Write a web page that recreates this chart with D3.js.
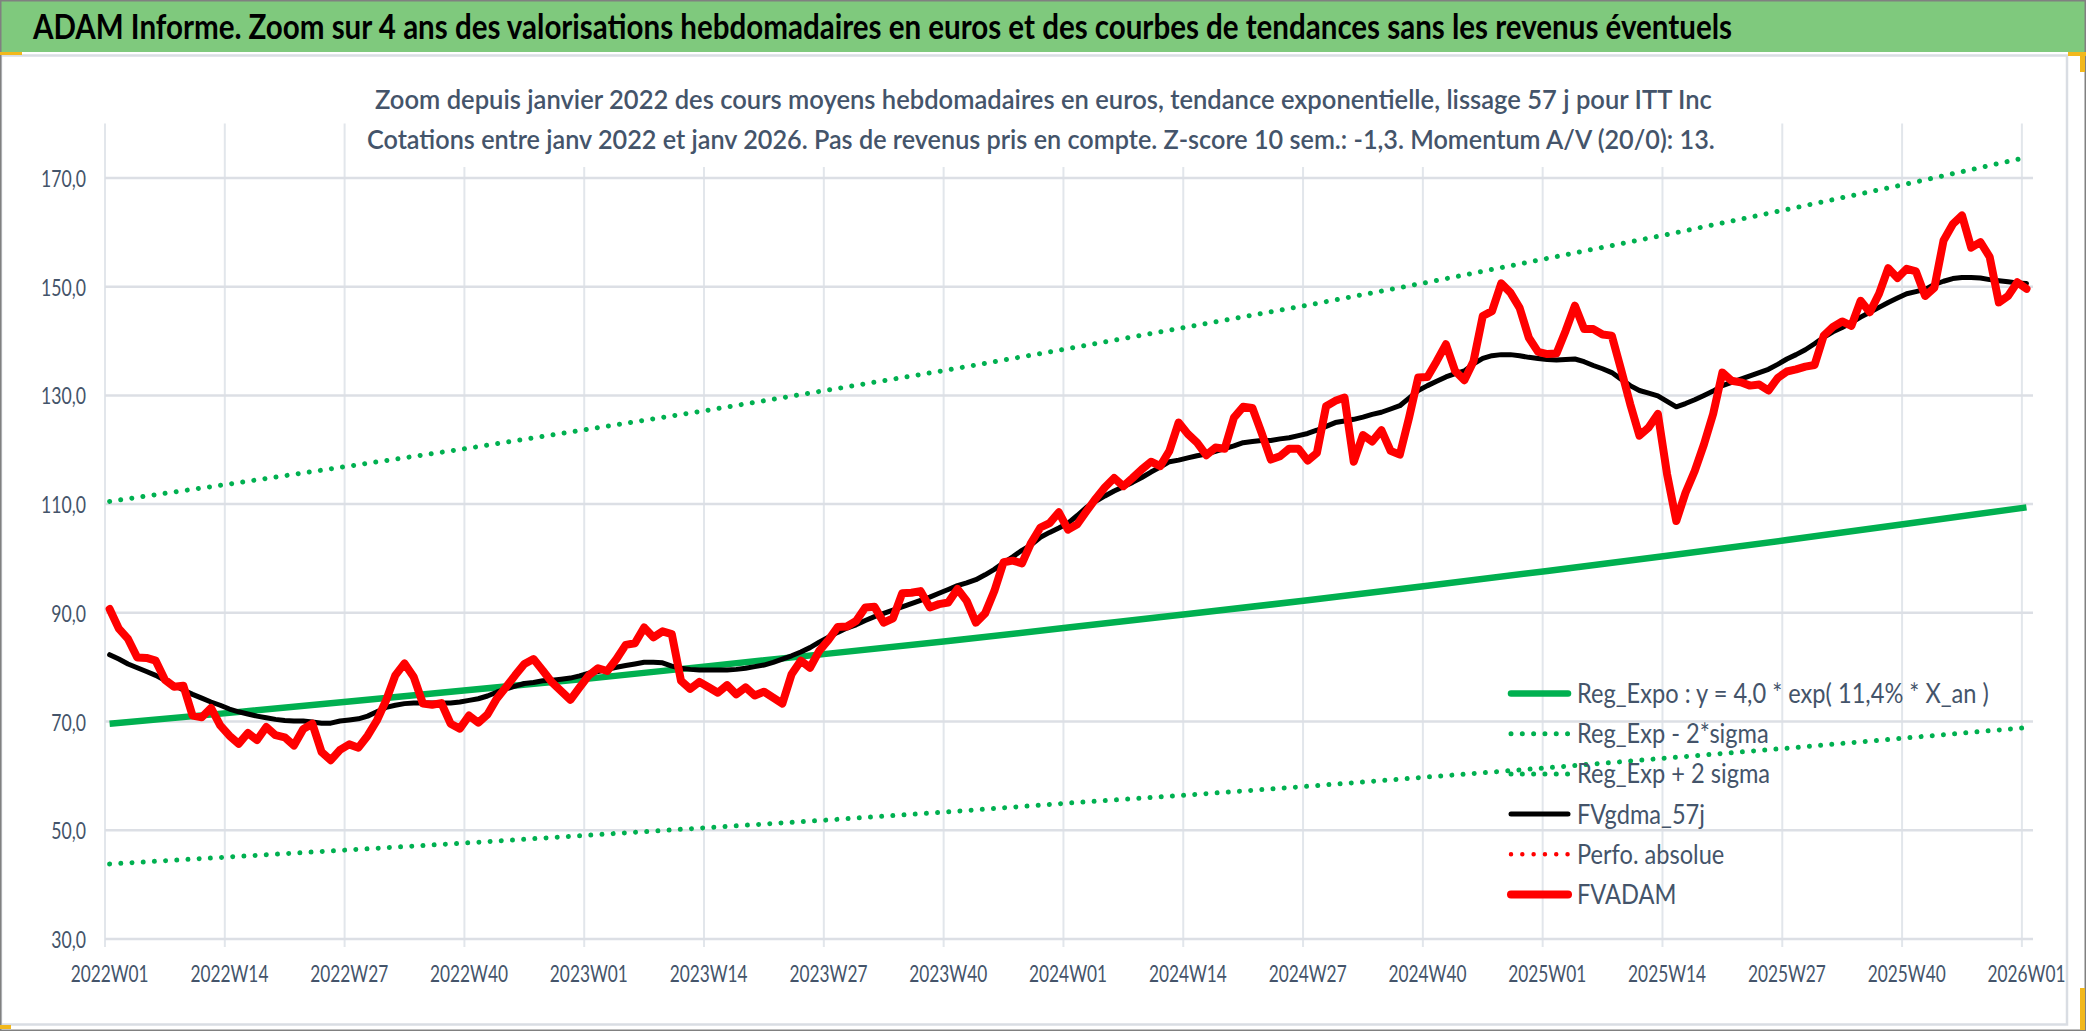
<!DOCTYPE html>
<html>
<head>
<meta charset="utf-8">
<script src="https://cdn.jsdelivr.net/npm/d3@7"></script>
<style>
  html, body { margin: 0; padding: 0; background: #ffffff; }
  svg { display: block; }
</style>
</head>
<body>
<svg id="chart" width="2086" height="1031"></svg>
<script>
// ---------------- DATA ----------------
const headerTitle = "ADAM Informe. Zoom sur 4 ans des valorisations hebdomadaires en euros et des courbes de tendances sans les revenus éventuels";
const subTitle1 = "Zoom depuis janvier 2022 des cours moyens hebdomadaires en euros, tendance exponentielle, lissage 57 j pour ITT Inc";
const subTitle2 = "Cotations entre janv 2022 et janv 2026. Pas de revenus pris en compte. Z-score 10 sem.: -1,3. Momentum A/V (20/0): 13.";

// weekly categories 2022W01 ... 2026W01
const years = [2022, 2023, 2024, 2025];
const weeksPerYear = 52;
const categories = [];
years.forEach(y => { for (let w = 1; w <= weeksPerYear; w++) categories.push(y + "W" + String(w).padStart(2, "0")); });
categories.push("2026W01");

const tickLabels = ["2022W01","2022W14","2022W27","2022W40","2023W01","2023W14","2023W27","2023W40",
                    "2024W01","2024W14","2024W27","2024W40","2025W01","2025W14","2025W27","2025W40","2026W01"];
const yTicks = [30, 50, 70, 90, 110, 130, 150, 170];

// FVADAM (weekly average price, euros)
const fvadam = [
 90.7,87.1,85.2,81.8,81.7,81.2,77.7,76.4,76.6,71.1,70.8,72.5,69.3,67.4,65.9,67.9,66.6,69.0,67.5,67.1,
 65.6,68.6,69.6,64.4,62.9,64.8,65.8,65.2,67.4,70.2,73.9,78.5,80.7,78.2,73.3,73.1,73.4,69.6,68.7,71.1,
 69.8,71.3,74.2,76.3,78.5,80.6,81.5,79.4,77.2,75.6,74.0,76.3,78.5,79.8,79.3,81.5,84.1,84.4,87.3,85.5,
 86.6,86.1,77.5,76.0,77.3,76.3,75.3,76.7,75.0,76.3,74.8,75.5,74.4,73.3,78.7,81.2,79.9,83.0,85.0,87.4,
 87.5,88.5,91.0,91.1,88.2,89.0,93.6,93.7,94.0,91.0,91.6,91.9,94.4,92.2,88.2,89.9,94.0,99.3,99.6,99.1,
 102.9,105.7,106.5,108.5,105.3,106.3,108.7,111.0,113.1,114.8,113.3,114.8,116.4,117.8,117.0,119.8,125.0,122.9,121.3,119.0,
 120.4,120.2,125.9,127.9,127.7,123.1,118.2,118.8,120.2,120.2,118.0,119.4,128.0,129.0,129.6,117.8,122.7,121.5,123.6,119.8,
 119.1,125.9,133.3,133.4,136.3,139.4,134.5,132.8,136.3,144.6,145.5,150.6,148.9,146.1,140.6,138.0,137.6,137.7,141.9,146.5,
 142.2,142.2,141.2,141.0,134.8,128.4,122.6,124.1,126.6,115.5,106.9,112.1,116.1,121.0,126.6,134.2,132.7,132.4,131.8,132.0,
 130.9,133.2,134.4,134.8,135.3,135.6,141.0,142.6,143.6,142.8,147.4,145.3,148.7,153.4,151.6,153.3,152.8,148.3,149.8,158.5,
 161.5,163.1,157.2,158.2,155.5,147.1,148.3,150.8,149.6
];

// FVgdma_57j (smoothed)
const fvgdma = [
 82.3,81.5,80.6,79.9,79.2,78.5,77.6,76.7,75.8,75.0,74.3,73.6,73.0,72.3,71.8,71.4,71.0,70.7,70.4,70.2,
 70.1,70.1,69.9,69.7,69.7,70.1,70.3,70.5,71.0,71.8,72.6,73.0,73.3,73.4,73.4,73.4,73.4,73.4,73.6,73.9,
 74.2,74.7,75.4,76.0,76.5,77.0,77.2,77.5,77.6,77.8,78.0,78.4,78.9,79.2,79.6,80.0,80.3,80.6,80.9,80.9,
 80.8,80.2,79.8,79.6,79.5,79.5,79.5,79.5,79.6,79.8,80.1,80.4,80.9,81.5,82.1,82.8,83.6,84.6,85.5,86.4,
 87.2,87.8,88.6,89.3,89.9,90.5,91.1,91.7,92.3,92.9,93.6,94.3,95.0,95.5,96.1,97.0,98.0,99.2,100.3,101.5,
 102.5,103.9,104.8,105.6,106.5,107.9,109.4,110.5,111.5,112.4,113.2,114.0,114.9,115.9,116.8,117.8,118.1,118.5,118.9,119.2,
 119.7,120.2,120.7,121.3,121.5,121.7,121.7,122.0,122.2,122.6,123.0,123.6,124.3,125.0,125.3,125.6,126.0,126.5,126.9,127.5,
 128.1,129.5,130.9,131.8,132.6,133.4,134.0,134.5,135.8,136.8,137.3,137.5,137.5,137.3,137.0,136.8,136.6,136.5,136.6,136.7,
 136.2,135.5,134.9,134.2,133.0,131.8,130.9,130.4,129.9,128.9,127.9,128.5,129.2,130.0,130.8,131.8,132.4,133.0,133.6,134.2,
 134.8,135.7,136.7,137.5,138.4,139.5,140.7,141.7,142.5,143.4,144.4,145.3,146.2,147.1,147.9,148.7,149.1,149.5,150.4,151.0,
 151.5,151.7,151.7,151.6,151.3,151.1,150.9,150.7,150.6
];

// Trend curves read at each labelled week (tickLabels)
const regExpo  = [69.6,71.6,73.7,75.8,77.9,80.2,82.5,84.8,87.3,89.8,92.3,95.0,97.7,100.5,103.4,106.4,109.4];
const regMinus = [43.8,45.1,46.4,47.7,49.1,50.5,51.9,53.4,55.0,56.5,58.1,59.8,61.5,63.3,65.1,67.0,68.9];
const regPlus  = [110.5,113.7,117.0,120.3,123.8,127.3,131.0,134.7,138.6,142.6,146.6,150.8,155.2,159.6,164.2,168.9,173.8];

const legendItems = [
  { name: "Reg_Expo : y = 4,0 * exp( 11,4% *  X_an )", color: "#00b050", kind: "solid",  w: 6.5 },
  { name: "Reg_Exp - 2*sigma",  color: "#00b050", kind: "dot", w: 5 },
  { name: "Reg_Exp + 2 sigma",  color: "#00b050", kind: "dot", w: 5 },
  { name: "FVgdma_57j",         color: "#000000", kind: "solid", w: 5 },
  { name: "Perfo. absolue",     color: "#ff0000", kind: "dot", w: 4.5 },
  { name: "FVADAM",             color: "#ff0000", kind: "solid", w: 8 }
];

// ---------------- DRAW ----------------
const FONT = "Lato, 'Open Sans', 'Liberation Sans', sans-serif";
const TXT = "#44546a";
const svg = d3.select("#chart");

// horizontally condense a text node around its anchor x (the reference glyphs are narrow)
function condense(node, factor) {
  const ax = +(node.getAttribute("x") || 0);
  node.setAttribute("transform", `translate(${ax},0) scale(${factor},1) translate(${-ax},0)`);
}
function condenseTo(node, width) { condense(node, width / node.getComputedTextLength()); }

svg.append("rect").attr("width", 2086).attr("height", 1031).attr("fill", "#ffffff");

// header band
svg.append("rect").attr("x", 0).attr("y", 0).attr("width", 2086).attr("height", 52).attr("fill", "#7fc97d");
const hdr = svg.append("text").attr("x", 33).attr("y", 39.5)
  .attr("font-family", FONT).attr("font-weight", 700).attr("font-size", 34).attr("fill", "#000")
  .text(headerTitle);
condenseTo(hdr.node(), 1700);

// chart area frame
svg.append("rect").attr("x", 1).attr("y", 55.5).attr("width", 2066).attr("height", 969)
  .attr("fill", "#ffffff").attr("stroke", "#d9dde3").attr("stroke-width", 2.5);

// scales
const x = d3.scaleBand().domain(categories).range([105, 2031.1]).paddingInner(0).paddingOuter(0);
const bw = x.bandwidth();
const xc = c => x(c) + bw / 2;
const y = d3.scaleLinear().domain([30, 180]).range([939, 123.6]);

// gridlines
const grid = svg.append("g");
grid.selectAll("line.v").data(tickLabels).join("line")
  .attr("x1", d => x(d)).attr("x2", d => x(d))
  .attr("y1", y(180)).attr("y2", y(30) + 8)
  .attr("stroke", "#e2e6eb").attr("stroke-width", 2);
grid.selectAll("line.h").data(yTicks).join("line")
  .attr("x1", 105).attr("x2", 2033)
  .attr("y1", d => y(d)).attr("y2", d => y(d))
  .attr("stroke", "#dcdfe5").attr("stroke-width", 2.5);

// chart title box (opaque) + texts
svg.append("rect").attr("x", 358).attr("y", 60).attr("width", 1364).attr("height", 107).attr("fill", "#ffffff");
const st1 = svg.append("text").attr("x", 375).attr("y", 109)
  .attr("font-family", FONT).attr("font-weight", 600).attr("font-size", 27.5).attr("fill", TXT).text(subTitle1);
condenseTo(st1.node(), 1337);
const st2 = svg.append("text").attr("x", 367).attr("y", 149)
  .attr("font-family", FONT).attr("font-weight", 600).attr("font-size", 27.5).attr("fill", TXT).text(subTitle2);
condenseTo(st2.node(), 1349);

// axes labels
const yAxis = svg.append("g").attr("transform", "translate(86,0)")
  .call(d3.axisLeft(y).tickValues(yTicks).tickSize(0).tickPadding(0)
        .tickFormat(d => d3.format(".1f")(d).replace(".", ",")));
yAxis.select(".domain").remove();
yAxis.selectAll("text").attr("font-family", FONT).attr("font-size", 23).attr("fill", TXT)
  .attr("dy", "0.37em").attr("x", 0);
const xAxis = svg.append("g").attr("transform", "translate(0,982)")
  .call(d3.axisBottom(x).tickValues(tickLabels).tickSize(0).tickPadding(0));
xAxis.select(".domain").remove();
xAxis.selectAll("text").attr("font-family", FONT).attr("font-size", 23).attr("fill", TXT).attr("dy", 0).attr("y", 0);

// series
const lineCat = (cats) => d3.line().x((d, i) => xc(cats[i])).y(d => y(d));
const dotDash = "0.01 11.2";
svg.append("path").datum(regExpo).attr("d", lineCat(tickLabels))
  .attr("fill", "none").attr("stroke", "#00b050").attr("stroke-width", 6.5).attr("stroke-linejoin", "round");
svg.append("path").datum(regMinus).attr("d", lineCat(tickLabels))
  .attr("fill", "none").attr("stroke", "#00b050").attr("stroke-width", 5)
  .attr("stroke-linecap", "round").attr("stroke-dasharray", dotDash);
svg.append("path").datum(regPlus).attr("d", lineCat(tickLabels))
  .attr("fill", "none").attr("stroke", "#00b050").attr("stroke-width", 5)
  .attr("stroke-linecap", "round").attr("stroke-dasharray", dotDash);
svg.append("path").datum(fvgdma).attr("d", lineCat(categories))
  .attr("fill", "none").attr("stroke", "#000000").attr("stroke-width", 5)
  .attr("stroke-linejoin", "round").attr("stroke-linecap", "round");
svg.append("path").datum(fvadam).attr("d", lineCat(categories))
  .attr("fill", "none").attr("stroke", "#ff0000").attr("stroke-width", 8)
  .attr("stroke-linejoin", "round").attr("stroke-linecap", "round");

// legend
const lg = svg.append("g");
const rows = lg.selectAll("g").data(legendItems).join("g")
  .attr("transform", (d, i) => `translate(0,${693.5 + 40.2 * i})`);
rows.append("line").attr("x1", 1511).attr("x2", 1568).attr("y1", 0).attr("y2", 0)
  .attr("stroke", d => d.color).attr("stroke-width", d => d.w)
  .attr("stroke-linecap", "round")
  .attr("stroke-dasharray", d => d.kind === "dot" ? "0.01 11.3" : null);
const legTexts = rows.append("text").attr("x", 1577).attr("y", 9.5)
  .attr("font-family", FONT).attr("font-size", 26.5).attr("fill", TXT).text(d => d.name);

// condense labels like the reference
const fLeg = 412 / legTexts.node().getComputedTextLength();
legTexts.each(function () { condense(this, fLeg); });
const fx = 78 / xAxis.select("text").node().getComputedTextLength();
xAxis.selectAll("text").each(function () { condense(this, fx); });
const fy = 45 / yAxis.selectAll("text").filter(d => d === 170).node().getComputedTextLength();
yAxis.selectAll("text").each(function () { condense(this, fy); });

// outer frame & selection marks
svg.append("rect").attr("x", 0.75).attr("y", 0.75).attr("width", 2084.5).attr("height", 1029.5)
  .attr("fill", "none").attr("stroke", "#808080").attr("stroke-width", 1.5);
svg.append("rect").attr("x", 0).attr("y", 52).attr("width", 22).attr("height", 3).attr("fill", "#f2b81c");
svg.append("rect").attr("x", 0).attr("y", 1025).attr("width", 11).attr("height", 4).attr("fill", "#f2b81c");
svg.append("rect").attr("x", 2068).attr("y", 52).attr("width", 18).attr("height", 4).attr("fill", "#f2b81c");
svg.append("rect").attr("x", 2080).attr("y", 52).attr("width", 5).attr("height", 20).attr("fill", "#f2b81c");
svg.append("rect").attr("x", 2080).attr("y", 988).attr("width", 5).attr("height", 42).attr("fill", "#f2b81c");
</script>
</body>
</html>
